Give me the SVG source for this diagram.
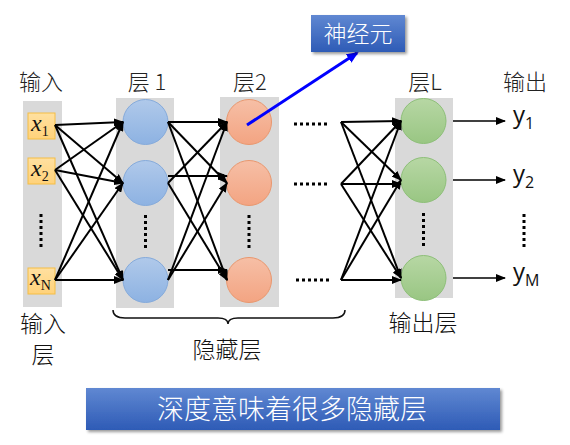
<svg xmlns="http://www.w3.org/2000/svg" width="570" height="445" viewBox="0 0 570 445">
<defs>
<marker id="ah" markerWidth="10" markerHeight="8" refX="9" refY="4" orient="auto" markerUnits="userSpaceOnUse"><path d="M0,0 L10,4 L0,8 Z" fill="#000"/></marker>
<marker id="ahb" markerWidth="12" markerHeight="10" refX="10" refY="5" orient="auto" markerUnits="userSpaceOnUse"><path d="M0,0 L12,5 L0,10 Z" fill="#0000FF"/></marker>
<linearGradient id="gb" x1="0" y1="0" x2="0" y2="1"><stop offset="0" stop-color="#B0C9EA"/><stop offset="1" stop-color="#8DB2E2"/></linearGradient>
<linearGradient id="go" x1="0" y1="0" x2="0" y2="1"><stop offset="0" stop-color="#F6BFA6"/><stop offset="1" stop-color="#F3A482"/></linearGradient>
<linearGradient id="gg" x1="0" y1="0" x2="0" y2="1"><stop offset="0" stop-color="#B7D7A4"/><stop offset="1" stop-color="#99C683"/></linearGradient>
<linearGradient id="gx" x1="0" y1="0" x2="0" y2="1"><stop offset="0" stop-color="#FFE0A0"/><stop offset="1" stop-color="#FFD27A"/></linearGradient>
<linearGradient id="gbox" x1="0" y1="0" x2="0" y2="1"><stop offset="0" stop-color="#6088D2"/><stop offset="1" stop-color="#2E5BB6"/></linearGradient>
<filter id="sh" x="-10%" y="-20%" width="130%" height="160%"><feDropShadow dx="2" dy="2" stdDeviation="1.5" flood-color="#000" flood-opacity="0.4"/></filter>
</defs>
<style>
.col{fill:#D9D9D9}
.hd{font-family:"Noto Sans CJK SC","Liberation Sans",sans-serif;font-size:22px;font-weight:300;fill:#222;text-anchor:middle}
.lb{font-family:"Noto Sans CJK SC","Liberation Sans",sans-serif;font-size:23px;font-weight:300;fill:#111;text-anchor:middle}
.cb{fill:url(#gb);stroke:#84AADB;stroke-width:1}
.co{fill:url(#go);stroke:#E9976E;stroke-width:1}
.cg{fill:url(#gg);stroke:#8DBF78;stroke-width:1}
.xb{fill:url(#gx);stroke:#F5BE45;stroke-width:1}
.xt{font-family:"Liberation Serif",serif;font-style:italic;font-size:24px;fill:#111}
.xs{font-family:"Liberation Serif",serif;font-size:14px;fill:#111;font-style:normal}
.yt{font-family:"Open Sans","Liberation Sans",sans-serif;font-size:24px;fill:#111}
.ys{font-size:16px}
.cn line{stroke:#000;stroke-width:2;marker-end:url(#ah)}
.out line{stroke:#000;stroke-width:1.5;marker-end:url(#ah)}
.vd{stroke:#000;stroke-width:3;stroke-dasharray:3 3}
.wt{font-family:"Noto Sans CJK SC","Liberation Sans",sans-serif;font-weight:300;fill:#fff;text-anchor:middle}
</style>
<rect width="570" height="445" fill="#fff"/>

<!-- headers -->
<text class="hd" x="41" y="90">输入</text>
<text class="hd" x="147" y="90">层 1</text>
<text class="hd" x="250" y="90">层2</text>
<text class="hd" x="425" y="90">层L</text>
<text class="hd" x="525" y="90">输出</text>

<!-- input layer -->
<g id="input-layer">
<rect class="col" x="23" y="101" width="39" height="206"/>
<g id="x1"><rect class="xb" x="28" y="113" width="27" height="26"/><text class="xt" x="31" y="131">x<tspan class="xs" dy="5">1</tspan></text></g>
<g id="x2"><rect class="xb" x="28" y="158" width="27" height="26"/><text class="xt" x="31" y="176">x<tspan class="xs" dy="5">2</tspan></text></g>
<line class="vd" x1="41" y1="214" x2="41" y2="248"/>
<g id="xN"><rect class="xb" x="28" y="268" width="27" height="26"/><text class="xt" x="30" y="285">x<tspan class="xs" dy="5">N</tspan></text></g>
</g>

<!-- layer 1 -->
<g id="layer1">
<rect class="col" x="116" y="98" width="58" height="210"/>
<circle class="cb" cx="145.5" cy="122" r="22.5"/>
<circle class="cb" cx="145.5" cy="183" r="22.5"/>
<line class="vd" x1="145.5" y1="215" x2="145.5" y2="249"/>
<circle class="cb" cx="145.5" cy="280" r="22.5"/>
</g>

<!-- layer 2 -->
<g id="layer2">
<rect class="col" x="220" y="97" width="59" height="210"/>
<circle class="co" cx="249" cy="122" r="22.5"/>
<circle class="co" cx="249" cy="183" r="22.5"/>
<line class="vd" x1="249" y1="215" x2="249" y2="249"/>
<circle class="co" cx="249" cy="280" r="22.5"/>
</g>

<!-- layer L -->
<g id="layerL">
<rect class="col" x="395" y="98" width="58" height="200"/>
<circle class="cg" cx="423.5" cy="121" r="22.5"/>
<circle class="cg" cx="423.5" cy="180" r="22.5"/>
<line class="vd" x1="423.5" y1="213" x2="423.5" y2="247"/>
<circle class="cg" cx="423.5" cy="278" r="22.5"/>
</g>

<!-- horizontal dots -->
<g id="hdots">
<line class="vd" x1="294" y1="124" x2="330" y2="124"/>
<line class="vd" x1="294" y1="184" x2="330" y2="184"/>
<line class="vd" x1="296" y1="280" x2="332" y2="280"/>
</g>

<!-- outputs -->
<g id="outputs">
<text class="yt" x="513" y="123">y<tspan class="ys" dy="6">1</tspan></text>
<text class="yt" x="513" y="182">y<tspan class="ys" dy="6">2</tspan></text>
<line class="vd" x1="524" y1="214" x2="524" y2="250"/>
<text class="yt" x="513" y="280">y<tspan class="ys" dy="6">M</tspan></text>
</g>

<!-- connectors -->
<g id="connectors">
<g class="cn">
<line x1="55" y1="125" x2="123" y2="122"/>
<line x1="55" y1="125" x2="123" y2="183"/>
<line x1="55" y1="125" x2="123" y2="280"/>
<line x1="55" y1="170" x2="123" y2="122"/>
<line x1="55" y1="170" x2="123" y2="183"/>
<line x1="55" y1="170" x2="123" y2="280"/>
<line x1="55" y1="280" x2="123" y2="122"/>
<line x1="55" y1="280" x2="123" y2="183"/>
<line x1="55" y1="280" x2="123" y2="280"/>

<line x1="168" y1="122" x2="227" y2="122"/>
<line x1="168" y1="122" x2="227" y2="183"/>
<line x1="168" y1="122" x2="227" y2="280"/>
<line x1="168" y1="183" x2="227" y2="122"/>
<line x1="168" y1="176" x2="227" y2="176"/>
<line x1="168" y1="183" x2="227" y2="280"/>
<line x1="168" y1="280" x2="227" y2="122"/>
<line x1="168" y1="280" x2="227" y2="183"/>
<line x1="168" y1="270" x2="227" y2="270"/>

<line x1="341" y1="122" x2="401" y2="121"/>
<line x1="341" y1="122" x2="401" y2="180"/>
<line x1="341" y1="122" x2="401" y2="278"/>
<line x1="341" y1="184" x2="401" y2="121"/>
<line x1="341" y1="184" x2="401" y2="184"/>
<line x1="341" y1="184" x2="401" y2="278"/>
<line x1="341" y1="280" x2="401" y2="121"/>
<line x1="341" y1="280" x2="401" y2="180"/>
<line x1="341" y1="280" x2="401" y2="280"/>
</g>
<g class="out">
<line x1="453" y1="121" x2="505" y2="121"/>
<line x1="453" y1="180" x2="505" y2="180"/>
<line x1="453" y1="278" x2="505" y2="278"/>
</g>
<line x1="247" y1="125" x2="357" y2="53" stroke="#0000FF" stroke-width="3" marker-end="url(#ahb)"/>
</g>

<!-- neuron label -->
<g id="neuron-label">
<rect x="311" y="15" width="94" height="37" fill="url(#gbox)" filter="url(#sh)"/>
<text class="wt" x="358" y="42" font-size="23">神经元</text>
</g>

<!-- brace -->
<g id="hidden-brace">
<path d="M113,310 Q113,318 125,318 L218,318 Q228,318 228,324 Q228,318 238,318 L333,318 Q345,318 345,310" fill="none" stroke="#111" stroke-width="1.5"/>
<text class="lb" x="227" y="358">隐藏层</text>
</g>

<g id="input-label">
<text class="lb" x="43" y="332">输入</text>
<text class="lb" x="43" y="363">层</text>
</g>
<g id="output-label">
<text class="lb" x="423" y="331">输出层</text>
</g>

<!-- bottom banner -->
<g id="banner">
<rect x="86" y="388" width="414" height="42" fill="url(#gbox)" filter="url(#sh)"/>
<text class="wt" x="292" y="419" font-size="27">深度意味着很多隐藏层</text>
</g>
</svg>
